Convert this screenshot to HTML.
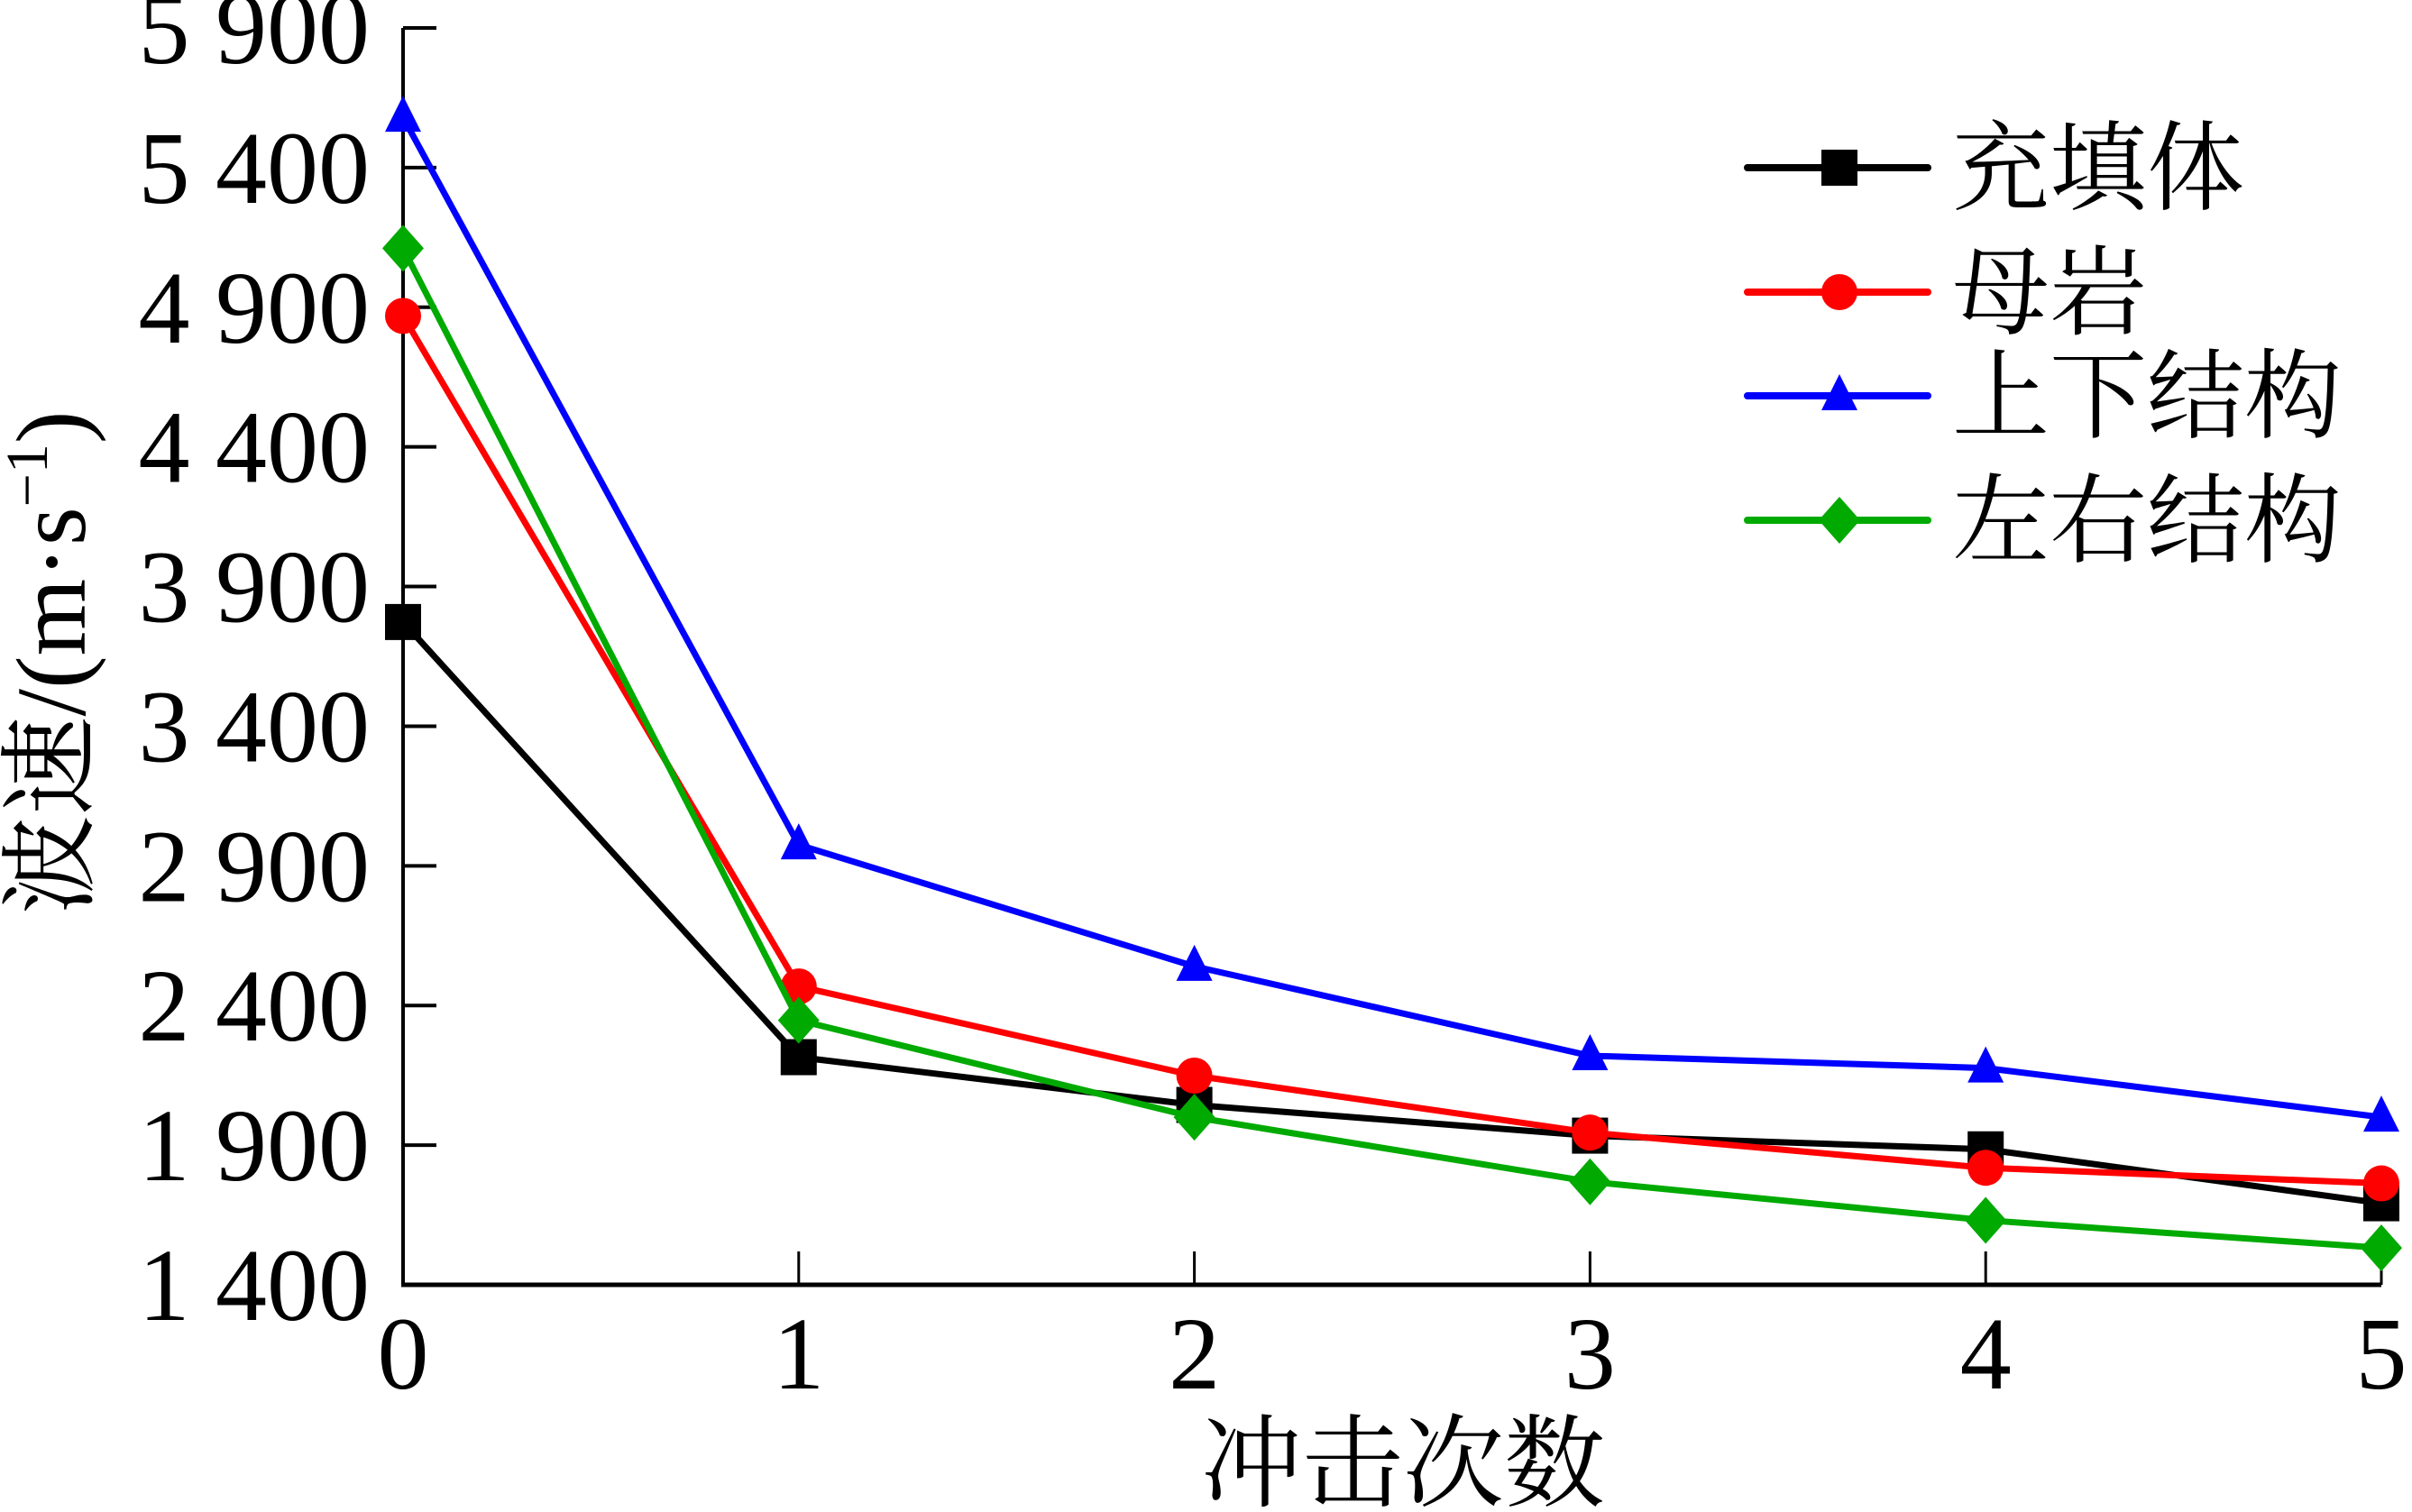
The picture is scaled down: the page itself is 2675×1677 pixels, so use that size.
<!DOCTYPE html>
<html><head><meta charset="utf-8"><style>
html,body{margin:0;padding:0;background:#fff}
svg{display:block}
text{font-family:"Liberation Serif","Noto Serif CJK SC","Noto Sans CJK SC",serif;fill:#000}
</style></head><body>
<svg id="chart" width="2675" height="1677" viewBox="0 0 2675 1677" xmlns="http://www.w3.org/2000/svg">
<g id="axes"></g>
<g id="series"></g>
<g id="legend"></g>
<text x="1556" y="1662" font-size="112" text-anchor="middle">冲击次数</text>
<text transform="translate(94,735) rotate(-90)" font-size="110" text-anchor="middle">波速/(m·s<tspan font-size="66" dy="-42">−1</tspan><tspan dy="42">)</tspan></text>
</svg>
<script>
const categories = [0, 1, 2, 3, 4, 5];
const yTicks = [1400, 1900, 2400, 2900, 3400, 3900, 4400, 4900, 5400, 5900];
const yTickLabels = ["1 400","1 900","2 400","2 900","3 400","3 900","4 400","4 900","5 400","5 900"];
const seriesNames = ["充填体", "母岩", "上下结构", "左右结构"];
const fillBody = [3773, 2215, 2044, 1934, 1885, 1692];
const hostRock = [4869, 2468, 2149, 1945, 1819, 1763];
const upDown = [5580, 2975, 2540, 2220, 2176, 2000];
const leftRight = [5111, 2347, 2000, 1769, 1631, 1532];

const NS = "http://www.w3.org/2000/svg";
const X0 = 447, X1 = 2641, Y0 = 1425, Y1 = 31;
function xs(v){ return X0 + (v - 0) / (5 - 0) * (X1 - X0); }
function ys(v){ return Y0 - (v - 1400) / (5900 - 1400) * (Y0 - Y1); }
function mk(tag, attrs, parent){ const e = document.createElementNS(NS, tag); for (const k in attrs) e.setAttribute(k, attrs[k]); parent.appendChild(e); return e; }

const axes = document.getElementById('axes');
let l = mk('line', {x1:X0, y1:Y1, x2:X0, y2:Y0, stroke:'#000', 'stroke-width':4}, axes);


l = mk('line', {x1:X0-2, y1:Y0, x2:X1, y2:Y0, stroke:'#000', 'stroke-width':5}, axes);


yTicks.forEach((t, i) => {
  const tk = mk('line', {x1:X0, y1:ys(t), x2:X0+37, y2:ys(t), stroke:'#000', 'stroke-width':4}, axes);
  
  
  const tx = mk('text', {x:410, y:ys(t)+39, 'font-size':114, 'text-anchor':'end'}, axes);
  tx.textContent = yTickLabels[i];
  
  
});
categories.forEach(c => {
  const tk = mk('line', {x1:xs(c), y1:Y0, x2:xs(c), y2:Y0-37, stroke:'#000', 'stroke-width':3}, axes);
  
  
  const tx = mk('text', {x:xs(c), y:1540, 'font-size':114, 'text-anchor':'middle'}, axes);
  tx.textContent = String(c);
  
  
});

function marker(type, cx, cy, color, parent){
  let e;
  if (type === 'square') e = mk('rect', {x:cx-20, y:cy-20, width:40, height:40, fill:color}, parent);
  else if (type === 'circle') e = mk('circle', {cx:cx, cy:cy, r:20, fill:color}, parent);
  else if (type === 'triangle') e = mk('polygon', {points:`${cx},${cy-24} ${cx+20},${cy+16} ${cx-20},${cy+16}`, fill:color}, parent);
  else e = mk('polygon', {points:`${cx},${cy-26} ${cx+23},${cy} ${cx},${cy+26} ${cx-23},${cy}`, fill:color}, parent);
  return e;
}

const seriesData = [fillBody, hostRock, upDown, leftRight];
const colors = ['#000000', '#ff0000', '#0000ff', '#00aa00'];
const markers = ['square', 'circle', 'triangle', 'diamond'];
const keys = ['fill-body', 'host-rock', 'up-down', 'left-right'];
const sg = document.getElementById('series');
seriesData.forEach((d, si) => {
  const g = mk('g', {}, sg);
  
  
  const pl = mk('polyline', {points: d.map((v, i) => xs(categories[i]) + ',' + ys(v)).join(' '), fill:'none', stroke:colors[si], 'stroke-width':7, 'stroke-linejoin':'round'}, g);
  
  
  d.forEach((v, i) => {
    const m = marker(markers[si], xs(categories[i]), ys(v), colors[si], g);
    
    
  });
});

const lg = document.getElementById('legend');
const rows = [186, 324, 439, 577];
seriesNames.forEach((n, si) => {
  const g = mk('g', {}, lg);
  
  
  mk('line', {x1:1938, y1:rows[si], x2:2138, y2:rows[si], stroke:colors[si], 'stroke-width':8, 'stroke-linecap':'round'}, g);
  marker(markers[si], 2040, rows[si], colors[si], g);
  const t = mk('text', {x:2165, y:rows[si]+38, 'font-size':108}, g);
  t.textContent = n;
  
  
});
</script>
</body></html>
